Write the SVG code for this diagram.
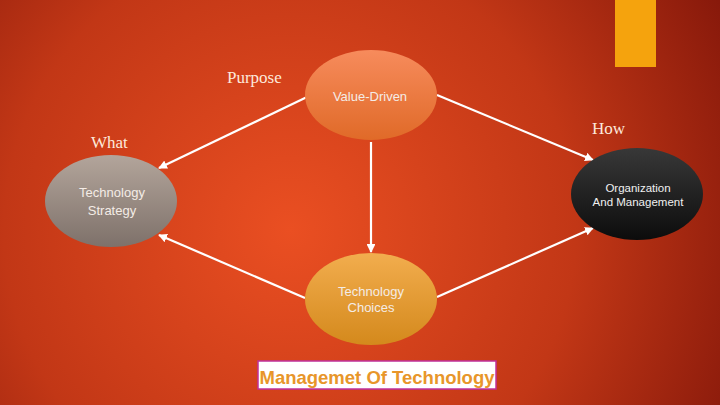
<svg xmlns="http://www.w3.org/2000/svg" width="720" height="405" viewBox="0 0 720 405">
<defs>
<radialGradient id="bg" cx="290" cy="230" r="520" gradientUnits="userSpaceOnUse">
<stop offset="0" stop-color="#ea4f22"/><stop offset="0.55" stop-color="#c23716"/><stop offset="1" stop-color="#7e1409"/>
</radialGradient>
<linearGradient id="gVD" x1="0" y1="0" x2="0" y2="1"><stop offset="0" stop-color="#f78b5c"/><stop offset="1" stop-color="#e06a28"/></linearGradient>
<linearGradient id="gTS" x1="0" y1="0" x2="0" y2="1"><stop offset="0" stop-color="#b3a59b"/><stop offset="1" stop-color="#7e716a"/></linearGradient>
<linearGradient id="gOM" x1="0" y1="0" x2="0" y2="1"><stop offset="0" stop-color="#383838"/><stop offset="1" stop-color="#0c0c0c"/></linearGradient>
<linearGradient id="gTC" x1="0" y1="0" x2="0" y2="1"><stop offset="0" stop-color="#f2ad4e"/><stop offset="1" stop-color="#d4891c"/></linearGradient>
<marker id="ah" viewBox="0 0 10 10" refX="9" refY="5" markerWidth="4" markerHeight="4" orient="auto"><path d="M0,0L10,5L0,10z" fill="#fff"/></marker>
</defs>
<style>
.lbl{font-family:"Liberation Serif",serif;font-size:17px;fill:#fde9dc}
.nt{font-family:"Liberation Sans",Arial,sans-serif;font-size:13px;fill:#f4ece6;text-anchor:middle}
.nts{font-family:"Liberation Sans",Arial,sans-serif;font-size:11.5px;fill:#f0f0f0;text-anchor:middle}
.cn{stroke:#fff;stroke-width:2.2;fill:none;marker-end:url(#ah)}
</style>
<rect width="720" height="405" fill="url(#bg)"/>
<rect x="615" y="0" width="41" height="67" fill="#f5a30d"/>
<g id="connectors">
<line class="cn" x1="307" y1="97" x2="159" y2="168"/>
<line class="cn" x1="437" y1="95" x2="593" y2="160"/>
<line class="cn" x1="371" y1="142" x2="371" y2="252"/>
<line class="cn" x1="305" y1="298" x2="159" y2="235"/>
<line class="cn" x1="437" y1="297" x2="593" y2="228"/>
</g>
<g id="value-driven"><ellipse cx="371" cy="95" rx="66" ry="45" fill="url(#gVD)"/><text class="nt" x="370" y="101">Value-Driven</text></g>
<g id="technology-strategy"><ellipse cx="111" cy="201" rx="66" ry="46" fill="url(#gTS)"/><text class="nt" x="112" y="197">Technology</text><text class="nt" x="112" y="215">Strategy</text></g>
<g id="organization"><ellipse cx="637" cy="194" rx="66" ry="46" fill="url(#gOM)"/><text class="nts" x="638" y="192">Organization</text><text class="nts" x="638" y="206">And Management</text></g>
<g id="technology-choices"><ellipse cx="371" cy="299" rx="66" ry="46" fill="url(#gTC)"/><text class="nt" x="371" y="296">Technology</text><text class="nt" x="371" y="312">Choices</text></g>
<text class="lbl" x="227" y="83">Purpose</text>
<text class="lbl" x="91" y="148">What</text>
<text class="lbl" x="592" y="134">How</text>
<g id="title"><rect x="258" y="361" width="238" height="28" fill="#fff" stroke="#c0319a" stroke-width="1.5"/><text x="377" y="384" text-anchor="middle" font-family="Liberation Sans,Arial,sans-serif" font-weight="bold" font-size="18.5" fill="#e8962a">Managemet Of Technology</text></g>
</svg>
